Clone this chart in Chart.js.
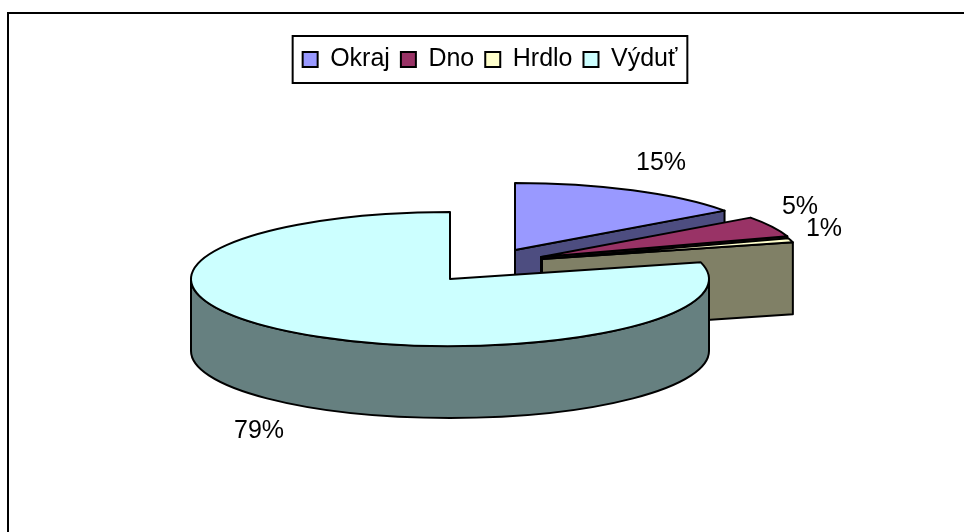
<!DOCTYPE html>
<html>
<head>
<meta charset="utf-8">
<style>
  html, body { margin: 0; padding: 0; background: #fff; }
  canvas { display: block; }
</style>
<script src="https://cdn.jsdelivr.net/npm/chart.js@4/dist/chart.umd.min.js"></script>
</head>
<body>
<canvas id="chart" width="964" height="532"></canvas>
<script>
const categories = ['Okraj', 'Dno', 'Hrdlo', 'Výduť'];
const shares = [15, 5, 1, 79];
const topColors = ['#9999FF', '#993366', '#FFFFCC', '#CCFFFF'];
const wallColors = ['#4D4D80', '#4D1A33', '#808066', '#668080'];

// pie tilt and how far each slice is pulled out of the centre
const pie3d = {
  cx: 450, cy: 279, squash: 67 / 259, depth: 72,
  explode: [[65, -29], [91, -22], [92, -20], [0, 0]],
  labelAt: [[661, 163], [800, 207], [824, 229], [259, 431]]
};

const fontFamily = '"Liberation Sans", Arial, sans-serif';

function rimPoint(arc, angle, ox, oy) {
  return [ox + arc.outerRadius * Math.cos(angle), oy + arc.outerRadius * pie3d.squash * Math.sin(angle)];
}

function paint(ctx, fill) {
  ctx.fillStyle = fill;
  ctx.fill();
  ctx.stroke();
}

function drawRadialWall(ctx, arc, angle, ox, oy, fill) {
  const rim = rimPoint(arc, angle, ox, oy);
  ctx.beginPath();
  ctx.moveTo(ox, oy);
  ctx.lineTo(rim[0], rim[1]);
  ctx.lineTo(rim[0], rim[1] + pie3d.depth);
  ctx.lineTo(ox, oy + pie3d.depth);
  ctx.closePath();
  paint(ctx, fill);
}

function drawSlice(ctx, arc, i) {
  const ox = pie3d.cx + pie3d.explode[i][0];
  const oy = pie3d.cy + pie3d.explode[i][1];
  const ry = arc.outerRadius * pie3d.squash;

  // side faces that look towards the viewer
  if (Math.cos(arc.startAngle) < -1e-6) drawRadialWall(ctx, arc, arc.startAngle, ox, oy, wallColors[i]);
  if (Math.cos(arc.endAngle) > 1e-6) drawRadialWall(ctx, arc, arc.endAngle, ox, oy, wallColors[i]);

  const from = Math.max(arc.startAngle, 0);
  const to = Math.min(arc.endAngle, Math.PI);
  if (to > from) {
    ctx.beginPath();
    ctx.ellipse(ox, oy, arc.outerRadius, ry, 0, from, to);
    ctx.ellipse(ox, oy + pie3d.depth, arc.outerRadius, ry, 0, to, from, true);
    ctx.closePath();
    paint(ctx, wallColors[i]);
  }

  // top face
  ctx.beginPath();
  ctx.moveTo(ox, oy);
  ctx.ellipse(ox, oy, arc.outerRadius, ry, 0, arc.startAngle, arc.endAngle);
  ctx.closePath();
  paint(ctx, topColors[i]);
}

const pie3dPlugin = {
  id: 'pie3d',
  beforeDraw(chart) {
    const ctx = chart.ctx;
    ctx.save();
    ctx.fillStyle = '#fff';
    ctx.fillRect(0, 0, chart.width, chart.height);
    // chart frame, runs off the right and bottom of the page
    ctx.strokeStyle = '#000';
    ctx.lineWidth = 2;
    ctx.beginPath();
    ctx.moveTo(8, chart.height + 2);
    ctx.lineTo(8, 13);
    ctx.lineTo(chart.width + 2, 13);
    ctx.stroke();
    ctx.restore();
  },
  beforeDatasetDraw(chart, args) {
    const ctx = chart.ctx;
    ctx.save();
    ctx.strokeStyle = '#000';
    ctx.lineWidth = 2;
    ctx.lineJoin = 'round';
    args.meta.data.forEach((arc, i) => drawSlice(ctx, arc, i));

    ctx.fillStyle = '#000';
    ctx.font = '25px ' + fontFamily;
    ctx.textAlign = 'center';
    ctx.textBaseline = 'middle';
    shares.forEach((v, i) => ctx.fillText(v + '%', pie3d.labelAt[i][0], pie3d.labelAt[i][1]));
    ctx.restore();
    return false;
  },
  afterDraw(chart) {
    // legend box
    const boxes = chart.legend.legendHitBoxes;
    const first = boxes[0];
    const last = boxes[boxes.length - 1];
    const ctx = chart.ctx;
    ctx.save();
    ctx.strokeStyle = '#000';
    ctx.lineWidth = 2;
    ctx.strokeRect(first.left - 10, first.top - 11, last.left + last.width - first.left + 20, first.height + 22);
    ctx.restore();
  }
};

new Chart(document.getElementById('chart'), {
  type: 'pie',
  data: {
    labels: categories,
    datasets: [{
      data: shares,
      radius: 259,
      backgroundColor: topColors,
      borderColor: '#000',
      borderWidth: 2
    }]
  },
  options: {
    responsive: false,
    animation: false,
    layout: { padding: { left: 16, top: 36 } },
    plugins: {
      tooltip: { enabled: false },
      legend: {
        position: 'top',
        labels: {
          color: '#000',
          boxWidth: 15,
          boxHeight: 15,
          padding: 11,
          font: { family: fontFamily, size: 25 }
        }
      }
    }
  },
  plugins: [pie3dPlugin]
});
</script>
</body>
</html>
